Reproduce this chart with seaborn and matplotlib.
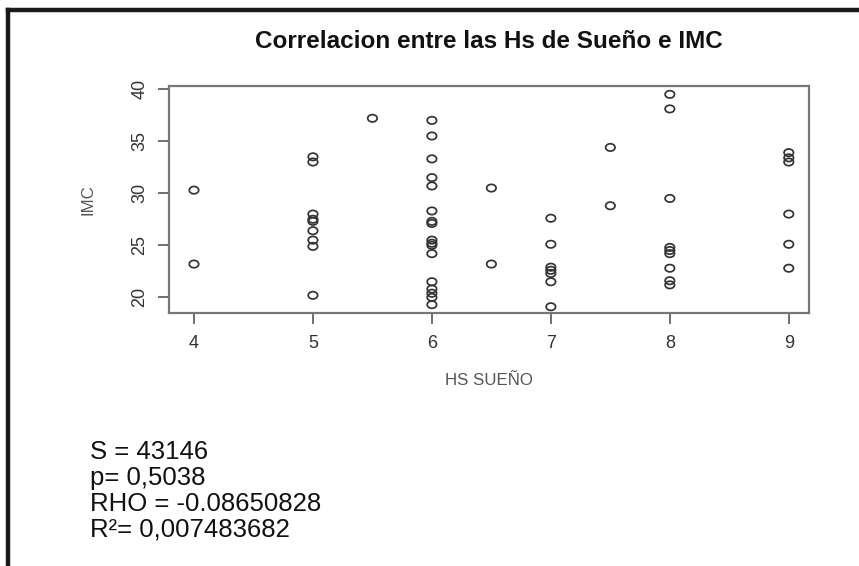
import matplotlib
matplotlib.use('Agg')
import matplotlib.pyplot as plt
import seaborn as sns
import pandas as pd
from matplotlib.path import Path
from matplotlib.transforms import Affine2D
from matplotlib.lines import Line2D

# datos
hs_sueno = [4, 4,
            5, 5, 5, 5, 5, 5, 5, 5, 5,
            5.5,
            6, 6, 6, 6, 6, 6, 6, 6, 6, 6, 6, 6, 6, 6, 6, 6, 6,
            6.5, 6.5,
            7, 7, 7, 7, 7, 7, 7,
            7.5, 7.5,
            8, 8, 8, 8, 8, 8, 8, 8, 8,
            9, 9, 9, 9, 9, 9]
imc = [30.3, 23.2,
       33.5, 33.0, 28.0, 27.5, 27.3, 26.4, 25.5, 24.9, 20.2,
       37.2,
       37.0, 35.5, 33.3, 31.5, 30.7, 28.3, 27.3, 27.1, 25.5, 25.2, 25.0, 24.2, 21.5, 20.8, 20.4, 20.0, 19.3,
       30.5, 23.2,
       27.6, 25.1, 22.9, 22.6, 22.3, 21.5, 19.1,
       34.4, 28.8,
       39.5, 38.1, 29.5, 24.8, 24.5, 24.2, 22.8, 21.6, 21.2,
       33.9, 33.4, 33.0, 28.0, 25.1, 22.8]
x_ticks = [4, 5, 6, 7, 8, 9]
y_ticks = [20, 25, 30, 35, 40]
stats_lines = ['S = 43146', 'p= 0,5038', 'RHO = -0.08650828', 'R²= 0,007483682']

df = pd.DataFrame({'HS': hs_sueno, 'IMC': imc})

sns.set_style('white')
plt.rcParams['font.family'] = ['Liberation Sans', 'DejaVu Sans']

fig = plt.figure(figsize=(8.59, 5.66), dpi=100)
ax = fig.add_axes([169 / 859, 1 - 313 / 566, (809 - 169) / 859, (313 - 86) / 566])

# circulo un poco achatado, como en la imagen original
ellipse = Path.unit_circle().transformed(Affine2D().scale(1.0, 0.78))
sns.scatterplot(data=df, x='HS', y='IMC', ax=ax, marker=ellipse, s=46,
                facecolors='none', edgecolor='#333333', linewidth=1.25)

ax.set_xlim(3.79, 9.17)
ax.set_ylim(18.5, 40.3)
ax.set_xticks(x_ticks)
ax.set_yticks(y_ticks)
ax.tick_params(axis='both', direction='out', length=8, width=1.2, color='#555555',
               labelsize=13, labelcolor='#333333', bottom=True, left=True)
ax.tick_params(axis='x', pad=8)
ax.tick_params(axis='y', pad=7)
for lab in ax.get_yticklabels():
    lab.set_rotation(90)
    lab.set_va('center')
for sp in ax.spines.values():
    sp.set_color('#777777')
    sp.set_linewidth(1.6)

ax.set_xlabel('HS SUEÑO', fontsize=12.2, color='#555555', labelpad=15)
ax.set_ylabel('IMC', fontsize=12.2, color='#555555', labelpad=26)
ax.set_title('Correlacion entre las Hs de Sueño e IMC', fontsize=17.5, fontweight='bold',
             color='#111111', pad=27)

# texto con los estadisticos
y0 = 1 - 452 / 566
for i, line in enumerate(stats_lines):
    fig.text(90 / 859, y0 - i * 26 / 566, line, fontsize=18.5, color='#111111', va='center')

# marco negro del documento (izquierda y arriba)
fig.add_artist(Line2D([8 / 859, 8 / 859], [0, 1 - 10 / 566], transform=fig.transFigure,
                      color='#1a1a1a', linewidth=3.2, solid_capstyle='projecting'))
fig.add_artist(Line2D([8 / 859, 1], [1 - 10 / 566, 1 - 10 / 566], transform=fig.transFigure,
                      color='#1a1a1a', linewidth=3.2, solid_capstyle='projecting'))

fig.savefig('out.png', dpi=100, facecolor='white')
